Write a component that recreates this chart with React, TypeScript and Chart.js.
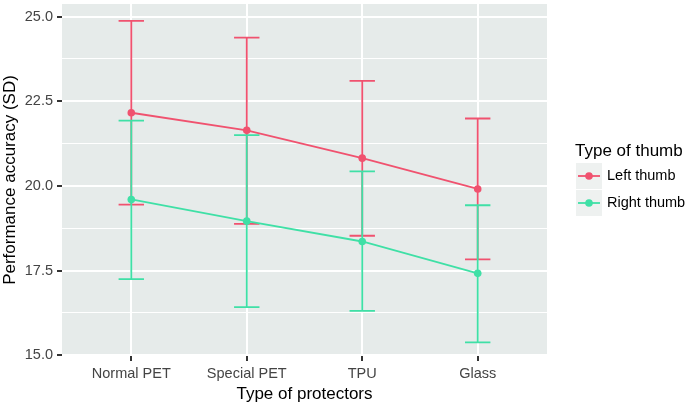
import React, { useEffect, useRef } from "react";
import { Chart, registerables } from "chart.js";

Chart.register(...registerables);

const categories = ["Normal PET", "Special PET", "TPU", "Glass"];
const seriesNames = ["Left thumb", "Right thumb"];
const leftMean = [22.16, 21.64, 20.82, 19.91];
const leftUpper = [24.87, 24.38, 23.1, 21.99];
const leftLower = [19.45, 18.88, 18.53, 17.83];
const rightMean = [19.6, 18.96, 18.36, 17.42];
const rightUpper = [21.93, 21.5, 20.43, 19.43];
const rightLower = [17.25, 16.42, 16.31, 15.38];
const yMajorTicks = [15, 17.5, 20, 22.5, 25];
const yMinorTicks = [16.25, 18.75, 21.25, 23.75];

const PINK = "#F0526F";
const GREEN = "#3FE0A6";
const FONT = "'Liberation Sans', Arial, sans-serif";

export default function App() {
  const ref = useRef<HTMLCanvasElement | null>(null);

  useEffect(() => {
    const canvas = ref.current;
    if (!canvas) return;

    const errorSeries = [
      { color: PINK, upper: leftUpper, lower: leftLower },
      { color: GREEN, upper: rightUpper, lower: rightLower },
    ];

    const panelPlugin = {
      id: "panel",
      beforeDraw(chart: any) {
        const { ctx, chartArea } = chart;
        ctx.save();
        ctx.fillStyle = "#E6EBEA";
        ctx.fillRect(chartArea.left, chartArea.top, chartArea.right - chartArea.left, chartArea.bottom - chartArea.top);
        ctx.restore();
      },
    };

    const errorPlugin = {
      id: "errorbars",
      beforeDatasetsDraw(chart: any) {
        const { ctx } = chart;
        const xs = chart.scales.x;
        const ys = chart.scales.y;
        ctx.save();
        ctx.lineWidth = 1.8;
        errorSeries.forEach((s) => {
          ctx.strokeStyle = s.color;
          categories.forEach((_, i) => {
            const x = xs.getPixelForValue(i);
            const yu = ys.getPixelForValue(s.upper[i]);
            const yl = ys.getPixelForValue(s.lower[i]);
            const half = xs.getPixelForValue(i + 0.11) - x;
            ctx.beginPath();
            ctx.moveTo(x, yu);
            ctx.lineTo(x, yl);
            ctx.moveTo(x - half, yu);
            ctx.lineTo(x + half, yu);
            ctx.moveTo(x - half, yl);
            ctx.lineTo(x + half, yl);
            ctx.stroke();
          });
        });
        ctx.restore();
      },
    };

    const legendPlugin = {
      id: "ggLegend",
      afterDraw(chart: any) {
        const { ctx } = chart;
        ctx.save();
        ctx.fillStyle = "#000";
        ctx.font = `17px ${FONT}`;
        ctx.textBaseline = "middle";
        ctx.textAlign = "left";
        ctx.fillText("Type of thumb", 575, 151);
        const colors = [PINK, GREEN];
        seriesNames.forEach((name, i) => {
          const top = 163 + i * 27;
          const cy = top + 13;
          ctx.fillStyle = "#EEF1F0";
          ctx.fillRect(576, top, 26, 26);
          ctx.strokeStyle = colors[i];
          ctx.lineWidth = 1.8;
          ctx.beginPath();
          ctx.moveTo(578, cy);
          ctx.lineTo(600, cy);
          ctx.stroke();
          ctx.fillStyle = colors[i];
          ctx.beginPath();
          ctx.arc(589, cy, 3.8, 0, Math.PI * 2);
          ctx.fill();
          ctx.fillStyle = "#000";
          ctx.font = `14.5px ${FONT}`;
          ctx.fillText(name, 607, cy);
        });
        ctx.restore();
      },
    };

    const isMajor = (v: number) => yMajorTicks.some((m) => Math.abs(m - v) < 1e-6);

    const chart = new Chart(canvas, {
      type: "line",
      data: {
        datasets: [
          {
            label: seriesNames[0],
            data: leftMean.map((y, i) => ({ x: i, y })),
            borderColor: PINK,
            backgroundColor: PINK,
            pointBackgroundColor: PINK,
            pointBorderColor: PINK,
            borderWidth: 1.8,
            pointRadius: 3.8,
            pointBorderWidth: 0,
            tension: 0,
          },
          {
            label: seriesNames[1],
            data: rightMean.map((y, i) => ({ x: i, y })),
            borderColor: GREEN,
            backgroundColor: GREEN,
            pointBackgroundColor: GREEN,
            pointBorderColor: GREEN,
            borderWidth: 1.8,
            pointRadius: 3.8,
            pointBorderWidth: 0,
            tension: 0,
          },
        ],
      },
      options: {
        responsive: false,
        animation: false,
        devicePixelRatio: 1,
        layout: { padding: { left: 0, top: 0, right: 138, bottom: 0 } },
        plugins: { legend: { display: false }, tooltip: { enabled: false } },
        scales: {
          x: {
            type: "linear",
            min: -0.6,
            max: 3.6,
            afterBuildTicks(scale: any) {
              scale.ticks = categories.map((_, i) => ({ value: i }));
            },
            afterFit(scale: any) {
              scale.height = 49;
              scale.paddingLeft = 0;
              scale.paddingRight = 0;
            },
            border: { display: false },
            grid: {
              color: "#FFFFFF",
              lineWidth: 2,
              tickColor: "#333333",
              tickLength: 5,
              drawTicks: true,
            },
            ticks: {
              color: "#444444",
              font: { family: FONT, size: 14.5 },
              padding: 4,
              maxRotation: 0,
              autoSkip: false,
              callback: (v: any) => categories[Math.round(Number(v))] ?? "",
            },
            title: {
              display: true,
              text: "Type of protectors",
              color: "#000",
              font: { family: FONT, size: 17 },
              padding: { top: 0, bottom: 0 },
            },
          },
          y: {
            type: "linear",
            min: 14.98,
            max: 25.37,
            afterBuildTicks(scale: any) {
              scale.ticks = [...yMajorTicks, ...yMinorTicks]
                .sort((a, b) => a - b)
                .map((v) => ({ value: v }));
            },
            afterFit(scale: any) {
              scale.width = 62;
              scale.paddingTop = 0;
              scale.paddingBottom = 0;
            },
            border: { display: false },
            grid: {
              color: "#FFFFFF",
              lineWidth: (c: any) => (isMajor(c.tick.value) ? 2 : 1.1),
              tickColor: (c: any) => (isMajor(c.tick.value) ? "#333333" : "rgba(0,0,0,0)"),
              tickLength: 5,
              drawTicks: true,
            },
            ticks: {
              color: "#444444",
              font: { family: FONT, size: 14.5 },
              padding: 4,
              autoSkip: false,
              callback: (v: any) => (isMajor(Number(v)) ? Number(v).toFixed(1) : ""),
            },
            title: {
              display: true,
              text: "Performance accuracy (SD)",
              color: "#000",
              font: { family: FONT, size: 17 },
              padding: { top: 0, bottom: 0 },
            },
          },
        },
      },
      plugins: [panelPlugin, errorPlugin, legendPlugin],
    } as any);

    return () => chart.destroy();
  }, []);

  return (
    <div style={{ position: "absolute", left: 0, top: 0, width: 685, height: 405, background: "#fff" }}>
      <canvas ref={ref} width={685} height={405} style={{ display: "block" }} />
    </div>
  );
}
